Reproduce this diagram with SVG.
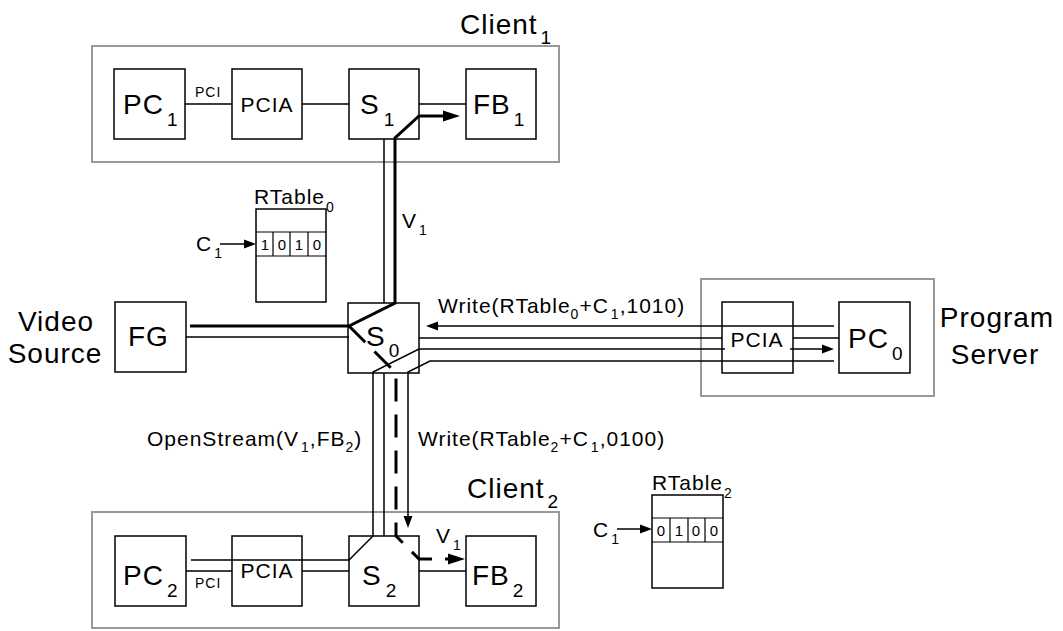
<svg xmlns="http://www.w3.org/2000/svg" width="1063" height="631" viewBox="0 0 1063 631">
<style>
.t{font-family:"Liberation Sans",Arial,sans-serif;fill:#000;letter-spacing:1px}
.big{font-size:28px}
.mid{font-size:21px}
.sm{font-size:14px}
.dig{font-size:15px;letter-spacing:0}
.sb{font-size:19px}
.sm2{font-size:14px}
.box{fill:#fff;stroke:#000;stroke-width:1.5}
.grp{fill:none;stroke:#999;stroke-width:2}
.ln{fill:none;stroke:#000;stroke-width:1.5}
.thk{fill:none;stroke:#000;stroke-width:3}
.dsh{fill:none;stroke:#000;stroke-width:3;stroke-dasharray:23 13}
</style>
<defs>
<marker id="ah" markerUnits="userSpaceOnUse" markerWidth="13" markerHeight="10" refX="0" refY="5" orient="auto">
<path d="M0,0.5 L12,5 L0,9.5 z" fill="#000"/>
</marker>
<marker id="ahT" markerUnits="userSpaceOnUse" markerWidth="18" markerHeight="12" refX="0" refY="6" orient="auto">
<path d="M0,0.5 L17,6 L0,11.5 z" fill="#000"/>
</marker>
</defs>
<rect width="1063" height="631" fill="#fff"/>

<g id="client1">
<rect class="grp" x="92" y="46" width="467" height="116"/>
<text class="t big" x="460" y="34">Client<tspan class="sb" dx="3" dy="10">1</tspan></text>
</g>
<g id="client2">
<rect class="grp" x="92" y="512" width="467" height="116"/>
<text class="t big" x="467" y="498">Client<tspan class="sb" dx="3" dy="10">2</tspan></text>
</g>
<g id="server">
<rect class="grp" x="701" y="279" width="233" height="117"/>
<text class="t big" x="997" y="327" text-anchor="middle">Program</text>
<text class="t big" x="995" y="364" text-anchor="middle">Server</text>
</g>
<g id="videosource">
<text class="t big" x="56" y="331" text-anchor="middle">Video</text>
<text class="t big" x="55" y="363" text-anchor="middle">Source</text>
</g>

<g id="connectors">
<path class="ln" d="M185,104 H232 M302,104 H349 M419,104 H466"/>
<path class="ln" d="M186,571 H232 M302,571 H349 M419,571 H466"/>
<path class="ln" d="M384,139 V303"/>
<path class="thk" d="M190,326 H349 L395,303 V138 L419,116 H443" marker-end="url(#ahT)"/>
<path class="ln" d="M186,337 H349"/>
<path class="dsh" d="M349,326 L396,373 V536 L419,559 H448" marker-end="url(#ahT)"/>
<path class="ln" d="M834,326 H438" marker-end="url(#ah)"/>
<path class="ln" d="M419,338 H722 M793,338 H839"/>
<path class="ln" d="M191,560 H349 L373,536 V372 L419,349 H822" marker-end="url(#ah)"/>
<path class="ln" d="M834,361 H430 L408,372 V516" marker-end="url(#ah)"/>
<path class="ln" d="M384,373 V536"/>
<path class="ln" d="M220,244 H244" marker-end="url(#ah)"/>
<path class="ln" d="M617,529 H640" marker-end="url(#ah)"/>
</g>

<g id="pc1"><rect class="box" x="114" y="69" width="71" height="70"/>
<text class="t big" x="123" y="114">PC<tspan class="sb" dx="3" dy="12">1</tspan></text></g>
<text class="t sm" x="195" y="97">PCI</text>
<g id="pcia1"><rect class="box" x="232" y="69" width="70" height="70"/>
<text class="t mid" x="267" y="112" text-anchor="middle">PCIA</text></g>
<g id="s1"><rect class="box" x="349" y="69" width="70" height="70" style="fill:none"/>
<text class="t big" x="360" y="114">S<tspan class="sb" dx="4" dy="12">1</tspan></text></g>
<g id="fb1"><rect class="box" x="466" y="69" width="70" height="70"/>
<text class="t big" x="473" y="114">FB<tspan class="sb" dx="3" dy="12">1</tspan></text></g>

<g id="fg"><rect class="box" x="115" y="302" width="71" height="70"/>
<text class="t big" x="128" y="346">FG</text></g>
<g id="s0"><rect class="box" x="348" y="303" width="71" height="70" style="fill:none"/>
<text class="t big" x="366" y="346">S<tspan class="sb" dx="3" dy="11">0</tspan></text></g>

<g id="pcia0"><rect class="box" x="722" y="302" width="71" height="71" style="fill:none"/>
<rect x="725" y="330" width="65" height="20" fill="#fff"/>
<text class="t mid" x="757" y="347" text-anchor="middle">PCIA</text></g>
<g id="pc0"><rect class="box" x="839" y="302" width="71" height="71"/>
<text class="t big" x="848" y="348">PC<tspan class="sb" dx="3" dy="12">0</tspan></text></g>

<g id="pc2"><rect class="box" x="115" y="536" width="71" height="70"/>
<text class="t big" x="123" y="585">PC<tspan class="sb" dx="3" dy="12">2</tspan></text></g>
<text class="t sm" x="195" y="588">PCI</text>
<g id="pcia2"><rect class="box" x="232" y="536" width="70" height="70" style="fill:none"/>
<text class="t mid" x="267" y="578" text-anchor="middle">PCIA</text></g>
<g id="s2"><rect class="box" x="349" y="536" width="70" height="70" style="fill:none"/>
<text class="t big" x="362" y="585">S<tspan class="sb" dx="4" dy="12">2</tspan></text></g>
<g id="fb2"><rect class="box" x="466" y="536" width="70" height="70"/>
<text class="t big" x="472" y="585">FB<tspan class="sb" dx="3" dy="12">2</tspan></text></g>

<g id="rtable0">
<text class="t mid" x="254" y="204">RTable<tspan class="sm2" dx="1" dy="8">0</tspan></text>
<rect class="box" x="256" y="209" width="70" height="93"/>
<path class="ln" d="M256,232 H326 M256,256 H326 M273,232 V256 M290,232 V256 M308,232 V256" style="stroke-width:1.2"/>
<text class="t dig" y="250" text-anchor="middle"><tspan x="265">1</tspan><tspan x="282">0</tspan><tspan x="299">1</tspan><tspan x="317">0</tspan></text>
<text class="t mid" x="196" y="251">C<tspan class="sm2" dx="2" dy="7">1</tspan></text>
</g>
<g id="rtable2">
<text class="t mid" x="652" y="490">RTable<tspan class="sm2" dx="1" dy="8">2</tspan></text>
<rect class="box" x="652" y="495" width="71" height="93"/>
<path class="ln" d="M652,518 H723 M652,542 H723 M670,518 V542 M688,518 V542 M705,518 V542" style="stroke-width:1.2"/>
<text class="t dig" y="536" text-anchor="middle"><tspan x="661">0</tspan><tspan x="679">1</tspan><tspan x="696">0</tspan><tspan x="714">0</tspan></text>
<text class="t mid" x="593" y="537">C<tspan class="sm2" dx="2" dy="7">1</tspan></text>
</g>

<g id="labels">
<text class="t mid" x="402" y="228">V<tspan class="sm2" dx="2" dy="7">1</tspan></text>
<text class="t mid" x="436" y="543">V<tspan class="sm2" dx="2" dy="7">1</tspan></text>
<text class="t mid" x="438" y="313">Write(RTable<tspan class="sm2" dy="6">0</tspan><tspan dy="-6">+C</tspan><tspan class="sm2" dx="2" dy="6">1</tspan><tspan dy="-6">,1010)</tspan></text>
<text class="t mid" x="147" y="446">OpenStream(V<tspan class="sm2" dx="2" dy="6">1</tspan><tspan dy="-6">,FB</tspan><tspan class="sm2" dy="6">2</tspan><tspan dy="-6">)</tspan></text>
<text class="t mid" x="418" y="446">Write(RTable<tspan class="sm2" dy="6">2</tspan><tspan dy="-6">+C</tspan><tspan class="sm2" dx="2" dy="6">1</tspan><tspan dy="-6">,0100)</tspan></text>
</g>
</svg>
